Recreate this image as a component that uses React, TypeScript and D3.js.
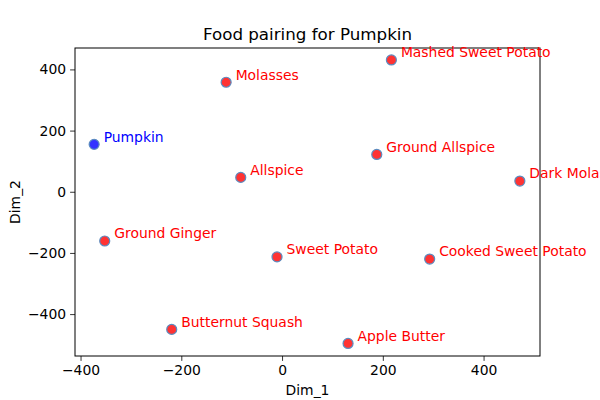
import React, { useEffect, useRef } from 'react'
import * as d3 from 'd3'

const names = [
  'Pumpkin',
  'Molasses',
  'Allspice',
  'Mashed Sweet Potato',
  'Ground Allspice',
  'Dark Molasses',
  'Ground Ginger',
  'Sweet Potato',
  'Butternut Squash',
  'Cooked Sweet Potato',
  'Apple Butter',
]
const dim1 = [-373, -111, -82, 217, 188, 472, -352, -10, -219, 293, 131]
const dim2 = [155, 358, 47, 431, 122, 35, -161, -213, -450, -220, -496]
const xTicks = [-400, -200, 0, 200, 400]
const yTicks = [-400, -200, 0, 200, 400]
const xDomain = [-411, 512]
const yDomain = [-537, 470]

const W = 600
const H = 400
const margin = { top: 48, right: 60, bottom: 44, left: 75 }

export default function App() {
  const ref = useRef<SVGSVGElement>(null)

  useEffect(() => {
    if (!ref.current) return
    const svg = d3.select(ref.current)
    svg.selectAll('*').remove()

    const x = d3.scaleLinear().domain(xDomain).range([margin.left, W - margin.right])
    const y = d3.scaleLinear().domain(yDomain).range([H - margin.bottom, margin.top])

    const font = 'DejaVu Sans, sans-serif'
    const fmt = (d: d3.NumberValue) => d3.format('d')(d as number).replace('-', '\u2212')

    // axes
    const xAxis = svg
      .append('g')
      .attr('transform', `translate(0,${H - margin.bottom})`)
      .call(d3.axisBottom(x).tickValues(xTicks).tickSizeOuter(0).tickSize(4.9).tickPadding(4).tickFormat(fmt))
    const yAxis = svg
      .append('g')
      .attr('transform', `translate(${margin.left},0)`)
      .call(d3.axisLeft(y).tickValues(yTicks).tickSizeOuter(0).tickSize(4.9).tickPadding(4).tickFormat(fmt))
    ;[xAxis, yAxis].forEach(a => {
      a.select('.domain').remove()
      a.selectAll('text').style('font-family', font).style('font-size', '13.9px').attr('fill', '#000')
      a.selectAll('line').attr('stroke', '#000').attr('stroke-width', 0.8)
    })

    // frame
    svg
      .append('rect')
      .attr('x', margin.left)
      .attr('y', margin.top)
      .attr('width', W - margin.left - margin.right)
      .attr('height', H - margin.top - margin.bottom)
      .attr('fill', 'none')
      .attr('stroke', '#000')
      .attr('stroke-width', 1)

    // points
    const idx = d3.range(names.length)
    svg
      .append('g')
      .selectAll('circle')
      .data(idx)
      .enter()
      .append('circle')
      .attr('cx', i => x(dim1[i]))
      .attr('cy', i => y(dim2[i]))
      .attr('r', 5)
      .attr('fill', i => (i === 0 ? '#3333ff' : '#ff3333'))
      .attr('stroke', '#5b8cc0')
      .attr('stroke-width', 1.2)

    // labels (the last one runs off the figure edge, as in the original)
    svg
      .append('g')
      .selectAll('text')
      .data(idx)
      .enter()
      .append('text')
      .attr('x', i => x(dim1[i]) + 9.5)
      .attr('y', i => y(dim2[i]) - 2.7)
      .attr('fill', i => (i === 0 ? '#0000ff' : '#ff0000'))
      .style('font-family', font)
      .style('font-size', '13.9px')
      .text(i => names[i])

    // title and axis labels
    svg
      .append('text')
      .attr('x', (margin.left + W - margin.right) / 2)
      .attr('y', 40)
      .attr('text-anchor', 'middle')
      .style('font-family', font)
      .style('font-size', '16.7px')
      .text('Food pairing for Pumpkin')
    svg
      .append('text')
      .attr('x', (margin.left + W - margin.right) / 2)
      .attr('y', 395)
      .attr('text-anchor', 'middle')
      .style('font-family', font)
      .style('font-size', '13.9px')
      .text('Dim_1')
    svg
      .append('text')
      .attr('transform', `translate(20,${(margin.top + H - margin.bottom) / 2}) rotate(-90)`)
      .attr('text-anchor', 'middle')
      .style('font-family', font)
      .style('font-size', '13.9px')
      .text('Dim_2')
  }, [])

  return (
    <div style={{ position: 'absolute', left: 0, top: 0, width: W, height: H, background: '#fff' }}>
      <svg ref={ref} width={W} height={H} style={{ display: 'block' }} />
    </div>
  )
}
